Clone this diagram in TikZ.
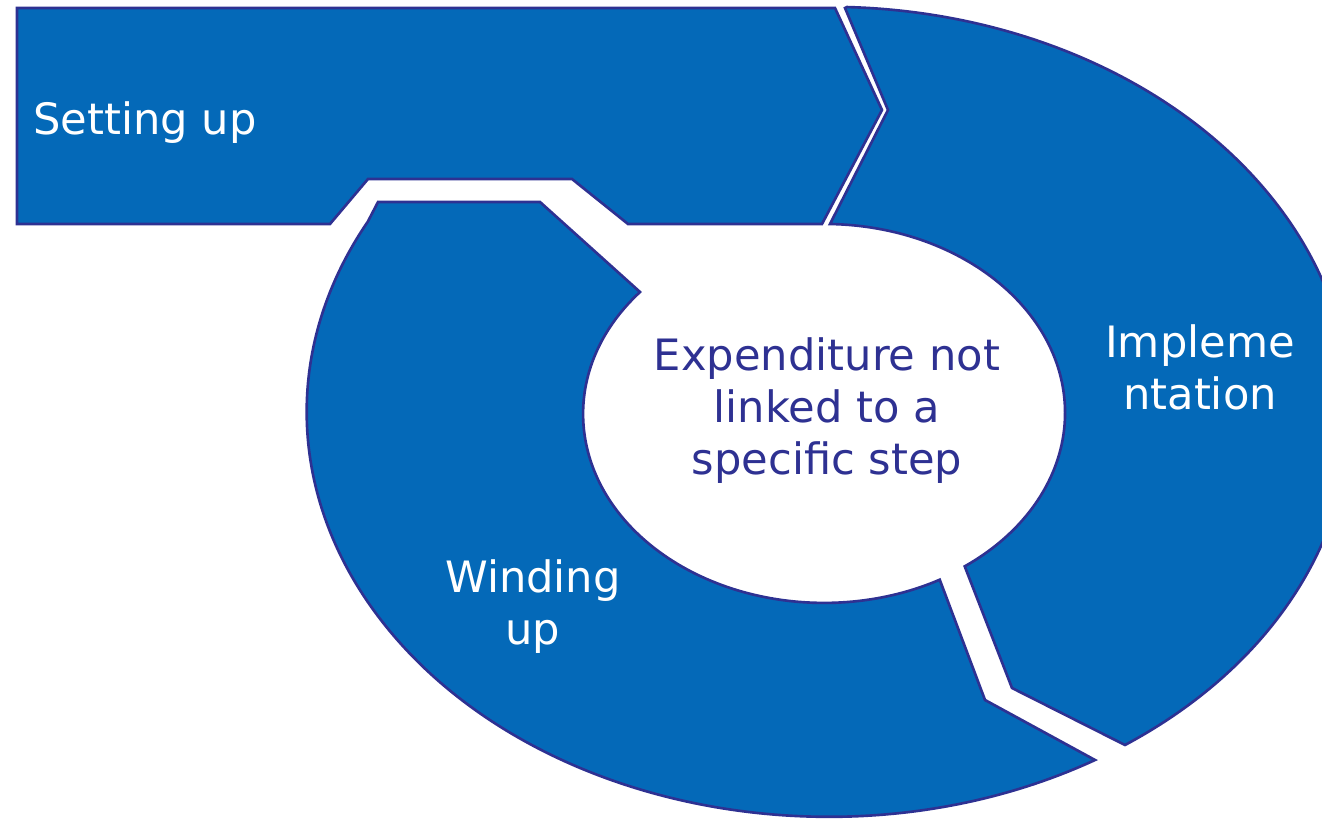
\documentclass[tikz,border=0pt]{standalone}
\usepackage{fontspec}
\setmainfont{DejaVu Sans}
\usepackage{xcolor}
\usepackage{tikz}

\definecolor{phaseblue}{RGB}{4,105,184}
\definecolor{phaseline}{RGB}{46,49,146}
\newcommand{\phasefont}{\fontsize{24.6}{29.6}\selectfont}

\begin{document}
\begin{tikzpicture}[
    x=0.02cm, y=-0.02cm,
    phase/.style={fill=phaseblue, draw=phaseline, line width=1.5pt, line join=miter},
    phaselbl/.style={text=white, font=\phasefont, align=center, inner sep=0pt},
    corelbl/.style={text=phaseline, font=\phasefont, align=center, inner sep=0pt},
  ]

  \useasboundingbox (0,0) rectangle (1322,821);
  \clip (0,0) rectangle (1322,821);

  % ---- Setting up (arrow) ----
  \draw[phase] (17,8) -- (835,8) -- (882,110) -- (822,224) -- (628,224)
    -- (572,179) -- (368,179) -- (330,224) -- (17,224) -- cycle;

  % ---- Implementation (right half of the ring) ----
  \draw[phase] (845,8) -- (888,110) -- (830,224)
    arc[start angle=88.6, end angle=-54.3, x radius=4.82cm, y radius=3.78cm]
    -- (1012,688) -- (1125,745)
    arc[start angle=-55.4, end angle=88, x radius=10.44cm, y radius=8.1cm]
    -- cycle;

  % ---- Winding up (left half of the ring) ----
  \draw[phase] (378,202) -- (540,202) -- (640,292)
    arc[start angle=139.8, end angle=298.7, x radius=4.82cm, y radius=3.78cm]
    -- (985,700) -- (1095,760)
    arc[start angle=300.7, end angle=152, x radius=10.44cm, y radius=8.1cm]
    -- cycle;

  % ---- Labels ----
  \node[phaselbl, anchor=base west] (setup) at (33,134) {Setting up};
  \node[phaselbl] (impl) at (1200,367) {Impleme\\ntation};
  \node[phaselbl] (windup) at (533,607) {Winding\\up};
  \node[corelbl] (core) at (827,411) {Expenditure not\\linked to a\\specific step};

\end{tikzpicture}
\end{document}
